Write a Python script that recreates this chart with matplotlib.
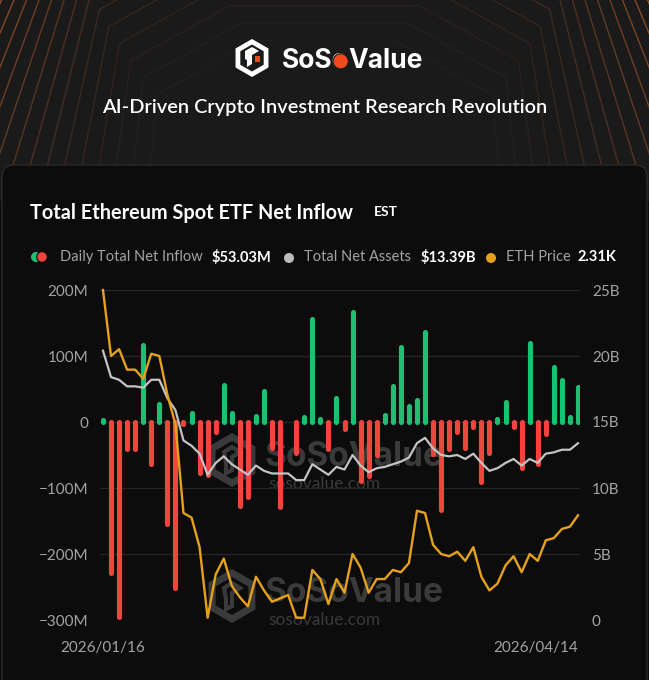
import numpy as np
import matplotlib.pyplot as plt
from matplotlib.patches import FancyBboxPatch, RegularPolygon, Rectangle, Circle, Polygon
from matplotlib.transforms import blended_transform_factory

# --- data ---
date_labels = ["2026/01/16", "2026/04/14"]
net_inflow = [3, -229, -296, -41, -41, 116, -63, 27, -155, -252,
              -3, 13, -78, -80, -15, 56, 13, -128, -113, 9,
              47, -40, -129, 0, -47, 8, 156, 5, -41, 37,
              -10, 167, -90, -82, -50, 11, 55, 114, 24, 34,
              136, -48, -133, -41, -15, -40, -8, -91, -47, 4,
              30, -7, -70, 119, -64, -18, 84, 64, 8, 53.03]  # $M
total_assets = [20.4, 18.4, 18.2, 17.7, 17.7, 17.6, 18.2, 18.2, 16.8, 15.9,
                13.6, 13.2, 12.6, 11.0, 11.9, 12.4, 11.8, 11.4, 11.0, 11.7,
                11.3, 11.1, 11.1, 11.1, 10.6, 10.6, 11.8, 11.4, 11.0, 11.6,
                11.4, 12.5, 11.7, 11.2, 11.5, 11.6, 11.8, 12.0, 12.3, 13.4,
                13.8, 13.0, 12.5, 12.4, 12.5, 12.2, 12.6, 11.9, 11.3, 11.5,
                11.9, 12.2, 11.7, 12.2, 11.9, 12.6, 12.7, 12.9, 12.9, 13.39]  # $B
eth_price = [3.30, 3.01, 3.04, 2.95, 2.95, 2.91, 3.02, 3.01, 2.84, 2.71,
             2.32, 2.30, 2.17, 1.86, 2.05, 2.12, 2.00, 1.95, 1.91, 2.04,
             1.98, 1.93, 1.945, 1.96, 1.86, 1.86, 2.07, 2.03, 1.92, 2.03,
             1.97, 2.14, 2.08, 1.97, 2.03, 2.03, 2.07, 2.06, 2.10, 2.33,
             2.32, 2.18, 2.14, 2.13, 2.15, 2.11, 2.17, 2.04, 1.98, 2.01,
             2.09, 2.13, 2.06, 2.14, 2.11, 2.20, 2.21, 2.25, 2.26, 2.31]  # $K
left_ticks = [200, 100, 0, -100, -200, -300]
right_ticks = [25, 20, 15, 10, 5, 0]

GREEN = '#1dbf73'
RED = '#f0443c'
GREY_LINE = '#c4c4c4'
ORANGE = '#e5a11c'
LABEL = '#a3a3a3'
FONT = 'Lato'
LOGO_RED = '#f04a1e'

fig = plt.figure(figsize=(6.49, 6.80), dpi=100)
fig.patch.set_facecolor('#0c0c0c')

# background canvas in pixel units
bg = fig.add_axes([0, 0, 1, 1])
bg.set_xlim(0, 649)
bg.set_ylim(680, 0)
bg.axis('off')
bg.add_patch(Rectangle((0, 0), 649, 200, color='#1a1a1a', zorder=0))

# nested orange outlines in the header
N = 15
for i in range(N):
    t = i / (N - 1)
    xb, yb = 150 - 245 * t, 175
    yc = 95 - 240 * t
    xc = xb + (yb - yc) * (0.08 + 0.4 * t)
    yt = yc - 55
    xt = xc + (yc - yt) * 1.8
    xs = [xb, xc, xt, 649 - xt, 649 - xc, 649 - xb]
    ys = [yb, yc, yt, yt, yc, yb]
    bg.plot(xs, ys, color='#c2622e', lw=1.0, alpha=0.06 + 0.75 * t ** 1.6, zorder=1)

bg.add_patch(FancyBboxPatch((2, 165), 645, 600, boxstyle='round,pad=0,rounding_size=12',
                            fc='#0c0c0c', ec='#2a2a2a', lw=1, zorder=2))

# logo
bg.add_patch(RegularPolygon((252, 58), 6, radius=19, fc='white', ec='none', zorder=3))
bg.add_patch(RegularPolygon((252, 58), 6, radius=13.5, fc='#1a1a1a', ec='none', zorder=4))
bg.add_patch(Polygon([[245, 51], [252, 47], [259, 51], [252, 55], [252, 64], [247, 67],
                      [247, 60], [245, 59]], fc='white', ec='none', zorder=5))
bg.add_patch(Rectangle((255, 56), 5, 6, fc=LOGO_RED, zorder=6))
r = fig.canvas.get_renderer()
inv = bg.transData.inverted()
logo_kw = dict(color='white', fontsize=19, fontweight='bold', family='Inter',
               va='baseline', ha='left', zorder=5)
t_sos = bg.text(282, 68, "SoS", alpha=0, **logo_kw)
t_soso = bg.text(282, 68, "SoSo", **logo_kw)
xa = inv.transform(t_sos.get_window_extent(r).get_points())[1, 0]
xb_ = inv.transform(t_soso.get_window_extent(r).get_points())[1, 0]
bg.add_patch(Circle(((xa + xb_) / 2, 61.3), 7.6, fc=LOGO_RED, ec='#1a1a1a', lw=0.8, zorder=6))
bg.text(xb_, 68, "Value", **logo_kw)

bg.text(324.5, 108, "AI-Driven Crypto Investment Research Revolution", color='white',
        fontsize=14.4, fontweight='semibold', family=FONT, ha='center', va='center', zorder=5)

# card title
bg.text(30, 213, "Total Ethereum Spot ETF Net Inflow", color='white', fontsize=14.3,
        fontweight='bold', family=FONT, ha='left', va='center', zorder=5)
bg.text(374, 212, "EST", color='white', fontsize=10, fontweight='bold', family=FONT,
        ha='left', va='center', zorder=5)

# legend row
ly = 257
bg.add_patch(Circle((36, ly), 5, fc=GREEN, zorder=5))
bg.add_patch(Circle((42, ly), 5.3, fc=RED, ec='#0c0c0c', lw=0.8, zorder=6))
legend_items = [(60, "Daily Total Net Inflow", 212, "$53.03M"),
                (304, "Total Net Assets", 421, "$13.39B"),
                (506, "ETH Price", 578, "2.31K")]
for lx, lab, vx, val in legend_items:
    bg.text(lx, ly, lab, color=LABEL, fontsize=10.5, family=FONT, ha='left', va='center', zorder=5)
    bg.text(vx, ly, val, color='white', fontsize=10.5, fontweight='bold', family=FONT,
            ha='left', va='center', zorder=5)
bg.add_patch(Circle((289, ly + 1), 5, fc='#bdbdbd', zorder=5))
bg.add_patch(Circle((491, ly + 1), 5, fc=ORANGE, zorder=5))

# watermarks
WM = '#3a3a3a'
for wy in (460, 596):
    bg.add_patch(RegularPolygon((232, wy), 6, radius=23, fc='none', ec=WM, lw=5, zorder=3))
    bg.add_patch(Polygon([[224, wy - 8], [232, wy - 13], [240, wy - 8], [232, wy - 3],
                          [232, wy + 10], [226, wy + 13], [226, wy + 3]],
                         fc='none', ec=WM, lw=3, zorder=3))
    bg.text(264, wy - 3, "SoSoValue", color=WM, fontsize=24, fontweight='bold',
            family='Inter', ha='left', va='center', zorder=3)
    bg.text(268, wy + 24, "sosovalue.com", color=WM, fontsize=12.5, family=FONT,
            ha='left', va='center', zorder=3)

# chart axes
x = np.arange(len(net_inflow))
ax = fig.add_axes([100 / 649, 1 - 620 / 680, 480 / 649, 330 / 680])
ax.patch.set_alpha(0)
vals = np.array(net_inflow, dtype=float)
keep = vals != 0
colors = [GREEN if v > 0 else RED for v in vals[keep]]
bars = ax.vlines(x[keep], 0, vals[keep], colors=colors, lw=3.7, zorder=3)
bars.set_capstyle('round')
ax.set_xlim(-0.37, 59.25)
ax.set_ylim(-300, 200)
ax.set_yticks(left_ticks)
ax.set_yticklabels([f"{v}M".replace('-', '\u2212') if v != 0 else "0" for v in left_ticks])
ax.grid(axis='y', color='#262626', lw=0.9, zorder=0)
ax.set_xticks([])
for s in ax.spines.values():
    s.set_visible(False)
ax.tick_params(axis='y', length=0, pad=8.5, labelcolor=LABEL, labelsize=11)
for lbl in ax.get_yticklabels():
    lbl.set_family(FONT)

ax2 = ax.twinx()
ax2.plot(x, total_assets, color=GREY_LINE, lw=1.6, zorder=4)
ax2.set_ylim(0, 25)
ax2.set_yticks(right_ticks)
ax2.set_yticklabels([f"{v}B" if v else "0" for v in right_ticks])
ax2.tick_params(axis='y', length=0, pad=8.5, labelcolor=LABEL, labelsize=11)
for lbl in ax2.get_yticklabels():
    lbl.set_family(FONT)
for s in ax2.spines.values():
    s.set_visible(False)

ax3 = ax.twinx()
ax3.plot(x, eth_price, color=ORANGE, lw=1.7, zorder=5, clip_on=False)
ax3.set_ylim(1.85, 3.30)
ax3.axis('off')

tr = blended_transform_factory(ax.transData, ax.transAxes)
ax.text(x[0], -0.085, date_labels[0], transform=tr, ha='center', va='center',
        color=LABEL, fontsize=11, family=FONT)
ax.text(x[-1], -0.085, date_labels[1], transform=tr, ha='right', va='center',
        color=LABEL, fontsize=11, family=FONT)

fig.savefig('out.png', dpi=100, facecolor=fig.get_facecolor())
